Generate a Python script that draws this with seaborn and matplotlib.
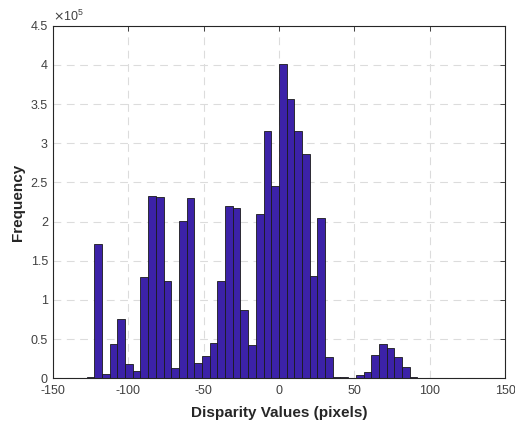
import numpy as np
import pandas as pd
import seaborn as sns
import matplotlib
matplotlib.use("Agg")
import matplotlib.pyplot as plt
from matplotlib.ticker import FuncFormatter, MultipleLocator

# 50 bins from -127.5 to 127.5 (width 5.1), counts
bin_lo = -127.5
bin_hi = 127.5
n_bins = 50
counts = [
    2000, 171700, 5500, 44000, 75400, 17800, 8900, 129300, 233000, 232000,
    124000, 12700, 201000, 230000, 19000, 28000, 45300, 124000, 220000, 217500,
    87800, 42400, 210000, 315000, 246000, 401500, 356000, 315000, 286000, 131000,
    205000, 27100, 2000, 1500, 500, 4000, 8400, 29600, 43600, 39000,
    27500, 14800, 2000, 800, 600, 500, 400, 300, 300, 200,
]

edges = np.linspace(bin_lo, bin_hi, n_bins + 1)
centers = (edges[:-1] + edges[1:]) / 2
df = pd.DataFrame({"disparity": centers, "count": counts})

sns.set_style("white")
plt.rcParams["font.family"] = ["Liberation Sans", "DejaVu Sans"]
plt.rcParams["axes.unicode_minus"] = False

fig = plt.figure(figsize=(5.15, 4.21), dpi=100)
ax = fig.add_axes([0.1023, 0.1014, 0.8787, 0.8376])

sns.histplot(data=df, x="disparity", weights="count", bins=n_bins,
             binrange=(bin_lo, bin_hi), ax=ax,
             color="#3C22A8", alpha=1, edgecolor="#1a1a1a", linewidth=0.6)

ax.set_xlim(-150, 150)
ax.set_ylim(0, 4.5e5)
ax.xaxis.set_major_locator(MultipleLocator(50))
ax.yaxis.set_major_locator(MultipleLocator(0.5e5))
ax.yaxis.set_major_formatter(FuncFormatter(lambda v, p: f"{v / 1e5:g}"))

ax.grid(True, linestyle=(0, (7, 5)), color="#dcdcdc", linewidth=0.8)
ax.set_axisbelow(True)
for s in ax.spines.values():
    s.set_visible(True)
    s.set_color("#262626")
    s.set_linewidth(0.8)
ax.tick_params(direction="in", length=3.5, width=0.6, colors="#262626",
               labelsize=9, top=True, right=True)
ax.tick_params(labelcolor="#404040")
ax.tick_params(axis="x", pad=5)
ax.tick_params(axis="y", pad=3.5)

ax.set_xlabel("Disparity Values (pixels)", fontsize=11, fontweight="bold",
              color="#262626", labelpad=6)
ax.set_ylabel("Frequency", fontsize=11, fontweight="bold",
              color="#262626", labelpad=4)
ax.text(0.0, 1.006, r"$\times\mathregular{10^5}$", transform=ax.transAxes,
        fontsize=9, color="#404040", va="bottom", ha="left")

fig.savefig("out.png", dpi=100, facecolor="white")
